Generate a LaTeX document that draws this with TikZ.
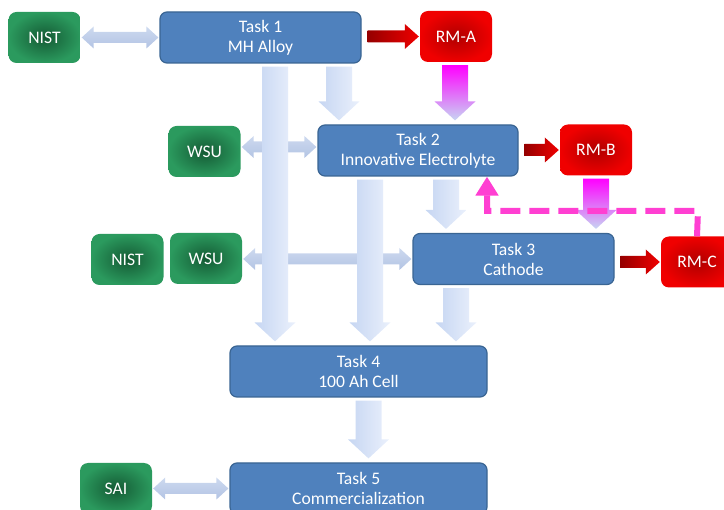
\documentclass[tikz,border=0pt]{standalone}
\usepackage{fontspec}
\setmainfont{Carlito}
\usepackage{tikz}
\usetikzlibrary{calc}
\usetikzlibrary{arrows.meta}

\definecolor{TaskBlue}{HTML}{4F81BD}
\definecolor{TaskLine}{HTML}{3A6593}
\definecolor{GreenIn}{HTML}{145A34}
\definecolor{GreenOut}{HTML}{2B9A5E}
\definecolor{RedIn}{HTML}{B00000}
\definecolor{RedOut}{HTML}{F00000}
\definecolor{BarL}{HTML}{C6D6F2}
\definecolor{BarR}{HTML}{EAF0FC}
\definecolor{LinkT}{HTML}{CDD9EF}
\definecolor{LinkB}{HTML}{B3C4E4}
\definecolor{Pink}{HTML}{FF3FD2}
\definecolor{Mag}{HTML}{FF00FF}
\definecolor{MagMid}{HTML}{E2C6F2}

\newcommand\vbar[4][]{%
  \shade[left color=BarL, right color=BarR, #1] let \p1=(#3.south), \p2=(#4.north) in
    (#2pt-13pt,\y1-3pt) -- (#2pt+13pt,\y1-3pt) -- (#2pt+13pt,\y2+23pt) -- (#2pt+20.5pt,\y2+23pt)
    -- (#2pt,\y2+4pt) -- (#2pt-20.5pt,\y2+23pt) -- (#2pt-13pt,\y2+23pt) -- cycle;}
\newcommand\rbar[2]{%
  \shade[left color=RedIn!85!black, right color=RedOut] let \p1=(#1.east), \p2=(#2.west) in
    (\x1+6pt,\y2+6pt) -- (\x2-15pt,\y2+6pt) -- (\x2-15pt,\y2+12.5pt) -- (\x2-1pt,\y2)
    -- (\x2-15pt,\y2-12.5pt) -- (\x2-15pt,\y2-6pt) -- (\x1+6pt,\y2-6pt) -- cycle;}
\newcommand\dbar[3][0]{%
  \shade[top color=LinkT, bottom color=LinkB] let \p1=(#2.east), \p2=([yshift=#1pt]#3.west) in
    (\x1+1pt,\y2) -- (\x1+13pt,\y2+11pt) -- (\x1+13pt,\y2+5.5pt) -- (\x2-13pt,\y2+5.5pt)
    -- (\x2-13pt,\y2+11pt) -- (\x2-1pt,\y2) -- (\x2-13pt,\y2-11pt) -- (\x2-13pt,\y2-5.5pt)
    -- (\x1+13pt,\y2-5.5pt) -- (\x1+13pt,\y2-11pt) -- cycle;}

\begin{document}
\begin{tikzpicture}[x=1pt, y=-1pt,
    every node/.style={text=white, align=center, inner sep=0pt, font=\fontsize{17.6}{20}\selectfont},
    task/.style={draw=TaskLine, fill=TaskBlue, line width=1.2pt, rounded corners=7pt, minimum height=51pt},
    partner/.style={inner color=GreenIn, outer color=GreenOut, rounded corners=8pt, minimum width=72pt, minimum height=51pt},
    rm/.style={inner color=RedIn, outer color=RedOut, rounded corners=8pt, minimum width=72pt, minimum height=51pt}]
  \useasboundingbox (0,0) rectangle (724,510);

  \node[task, minimum width=201pt] (t1) at (260.5,37.5) {Task 1\\MH Alloy};
  \node[task, minimum width=200pt] (t2) at (418,150.5) {Task 2\\Innovative Electrolyte};
  \node[task, minimum width=201pt] (t3) at (513.5,259) {Task 3\\Cathode};
  \node[task, minimum width=257pt] (t4) at (358.5,371.5) {Task 4\\100 Ah Cell};
  \node[task, minimum width=257pt] (t5) at (358.5,488.5) {Task 5\\Commercialization};

  \node[partner] (nista) at (44.5,37.5) {NIST};
  \node[partner] (wsua) at (204.5,151.5) {WSU};
  \node[partner] (nistb) at (127.5,259.5) {NIST};
  \node[partner] (wsub) at (206,258.5) {WSU};
  \node[partner] (sai) at (116,488.5) {SAI};

  \node[rm] (rma) at (456,36.5) {RM-A};
  \node[rm] (rmb) at (596,150) {RM-B};
  \node[rm] (rmc) at (697,262) {RM-C};

  \dbar{nista}{t1}
  \dbar[3.5]{wsua}{t2}
  \dbar{wsub}{t3}
  \dbar{sai}{t5}

  \vbar{275}{t1}{t4}
  \vbar{339}{t1}{t2}
  \vbar{370}{t2}{t4}
  \vbar{446}{t2}{t3}
  \vbar{456}{t3}{t4}
  \vbar{368.5}{t4}{t5}
  \vbar[top color=Mag, middle color=MagMid, bottom color=BarL]{455}{rma}{t2}
  \vbar[top color=Mag, middle color=MagMid, bottom color=BarL]{596}{rmb}{t3}

  \rbar{t1}{rma}
  \rbar{t2}{rmb}
  \rbar{t3}{rmc}

  \coordinate (fb) at (487,211);
  \coordinate (fc) at (698,211);
  \draw[draw=Pink, line width=6pt, dash pattern=on 20pt off 9pt, -{Triangle[width=22pt,length=19pt]}]
    (rmc.north) -- (fc) -- (fb) -- (fb |- t2.south);
\end{tikzpicture}
\end{document}
